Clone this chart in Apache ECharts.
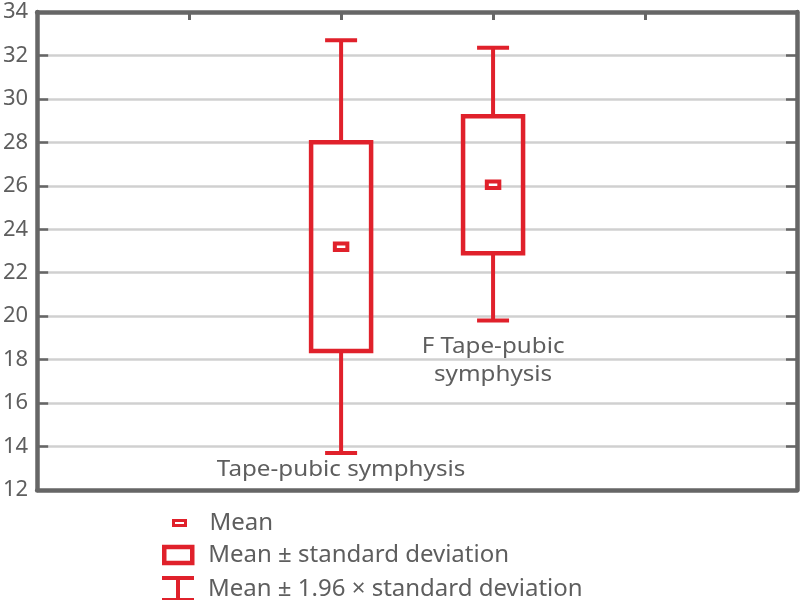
<!DOCTYPE html>
<html><head><meta charset="utf-8">
<script src="https://cdn.jsdelivr.net/npm/echarts@6/dist/echarts.min.js"></script>
<style>html,body{margin:0;padding:0;background:#fff}#c{width:800px;height:600px}</style>
</head><body><div id="c"></div>
<script>
// ---- data ----
const categories = ['Tape-pubic symphysis', 'F Tape-pubic\nsymphysis'];
const positions = [2, 3];
const means = [23.2, 26.05];
const sdLow = [18.4, 22.9];
const sdHigh = [28.0, 29.2];
const ciLow = [13.7, 19.8];
const ciHigh = [32.7, 32.35];
const labelLevels = [12.92, 17.93];
const seriesNames = ['Mean', 'Mean \u00b1 standard deviation', 'Mean \u00b1 1.96 \u00d7 standard deviation'];

// ---- style ----
const RED = '#e0212b';
const AXIS = '#666666';
const TEXT = '#5e5e5e';
const FONT = '"Noto Sans", "Open Sans", sans-serif';

const chart = echarts.init(document.getElementById('c'), null, {renderer: 'canvas'});

const meanData = positions.map((x, i) => [x, means[i]]);
const boxData = positions.map((x, i) => [x, sdLow[i], sdHigh[i]]);
const whiskerData = positions.map((x, i) => [x, ciLow[i], sdLow[i], sdHigh[i], ciHigh[i]]);
const labelData = positions.map((x, i) => ({value: [x, labelLevels[i]], name: categories[i]}));

function legend(name, top, icon, w, h, style) {
  return {
    data: [{name: name, icon: icon, itemStyle: style}], top: top, left: 162, padding: 0,
    selectedMode: false, orient: 'vertical',
    icon: icon, itemWidth: w, itemHeight: h,
    itemStyle: style,
    textStyle: {color: TEXT, fontSize: 24, fontFamily: FONT, padding: [0, 0, 0, 9]}
  };
}

const option = {
  animation: false,
  backgroundColor: '#ffffff',
  grid: {left: 37, right: 3, top: 12, bottom: 110, containLabel: false},
  legend: [
    legend(seriesNames[0], 511, 'path://M0 0M32 8M10 1.5H22V6.5H10Z', 32, 8, {color: '#ffffff', borderColor: RED, borderWidth: 3}),
    legend(seriesNames[1], 543, 'path://M2 0H30V16H2Z', 32, 16, {color: '#ffffff', borderColor: RED, borderWidth: 4.5}),
    legend(seriesNames[2], 576, 'path://M0 0H32V4H18V22H32V26H0V22H14V4H0Z', 32, 26, {color: RED, borderWidth: 0})
  ],
  xAxis: [
    {type: 'value', position: 'bottom', min: 0, max: 5, interval: 1,
     axisLine: {show: true, onZero: false, lineStyle: {color: AXIS, width: 4.5}},
     axisTick: {show: false}, axisLabel: {show: false}, splitLine: {show: false}},
    {type: 'value', position: 'top', min: 0, max: 5, interval: 1,
     axisLine: {show: true, onZero: false, lineStyle: {color: AXIS, width: 4.5}},
     axisTick: {show: true, inside: true, length: 8, lineStyle: {color: AXIS, width: 3}},
     axisLabel: {show: false}, splitLine: {show: false}}
  ],
  yAxis: [
    {type: 'value', position: 'left', min: 12, max: 34, interval: 2,
     axisLine: {show: true, onZero: false, lineStyle: {color: AXIS, width: 4.5}},
     axisTick: {show: true, inside: true, length: 11, lineStyle: {color: AXIS, width: 2.5}},
     axisLabel: {show: true, color: TEXT, fontSize: 22, fontFamily: FONT, margin: 9},
     splitLine: {show: true, lineStyle: {color: '#d0d0d0', width: 2.5}}},
    {type: 'value', position: 'right', min: 12, max: 34, interval: 2,
     axisLine: {show: true, onZero: false, lineStyle: {color: AXIS, width: 4.5}},
     axisTick: {show: true, inside: true, length: 11, lineStyle: {color: AXIS, width: 2.5}},
     axisLabel: {show: false}, splitLine: {show: false}}
  ],
  series: [
    {
      name: seriesNames[2], type: 'custom', xAxisIndex: 0, yAxisIndex: 0,
      encode: {x: 0, y: [1, 2, 3, 4]}, data: whiskerData, z: 3,
      renderItem: function (params, api) {
        const x = api.value(0);
        const p1 = api.coord([x, api.value(1)]);
        const p2 = api.coord([x, api.value(2)]);
        const p3 = api.coord([x, api.value(3)]);
        const p4 = api.coord([x, api.value(4)]);
        const cw = 16;
        const st = {stroke: RED, lineWidth: 4, fill: null};
        return {type: 'group', children: [
          {type: 'line', shape: {x1: p1[0], y1: p1[1], x2: p2[0], y2: p2[1]}, style: st},
          {type: 'line', shape: {x1: p3[0], y1: p3[1], x2: p4[0], y2: p4[1]}, style: st},
          {type: 'line', shape: {x1: p1[0] - cw, y1: p1[1], x2: p1[0] + cw, y2: p1[1]}, style: st},
          {type: 'line', shape: {x1: p4[0] - cw, y1: p4[1], x2: p4[0] + cw, y2: p4[1]}, style: st}
        ]};
      }
    },
    {
      name: seriesNames[1], type: 'custom', xAxisIndex: 0, yAxisIndex: 0,
      encode: {x: 0, y: [1, 2]}, data: boxData, z: 4,
      renderItem: function (params, api) {
        const x = api.value(0);
        const lo = api.coord([x, api.value(1)]);
        const hi = api.coord([x, api.value(2)]);
        const w = 60;
        return {type: 'rect', shape: {x: lo[0] - w / 2, y: hi[1], width: w, height: lo[1] - hi[1]},
          style: {fill: 'none', stroke: RED, lineWidth: 4.5}};
      }
    },
    {
      name: seriesNames[0], type: 'custom', xAxisIndex: 0, yAxisIndex: 0,
      encode: {x: 0, y: 1}, data: meanData, z: 5,
      renderItem: function (params, api) {
        const c = api.coord([api.value(0), api.value(1)]);
        const w = 12.5, h = 6.5;
        return {type: 'rect', shape: {x: c[0] - w / 2, y: c[1] - h / 2, width: w, height: h},
          style: {fill: '#ffffff', stroke: RED, lineWidth: 4}};
      }
    },
    {
      name: 'labels', type: 'custom', xAxisIndex: 0, yAxisIndex: 0,
      encode: {x: 0, y: 1}, data: labelData, z: 6,
      renderItem: function (params, api) {
        const c = api.coord([api.value(0), api.value(1)]);
        return {type: 'text', x: c[0], y: c[1], scaleX: 1.1,
          style: {text: categories[params.dataIndex], fill: TEXT, fontSize: 22, fontFamily: FONT,
            align: 'center', verticalAlign: 'middle', lineHeight: 28}};
      }
    }
  ]
};
chart.setOption(option);
</script>
</body></html>
